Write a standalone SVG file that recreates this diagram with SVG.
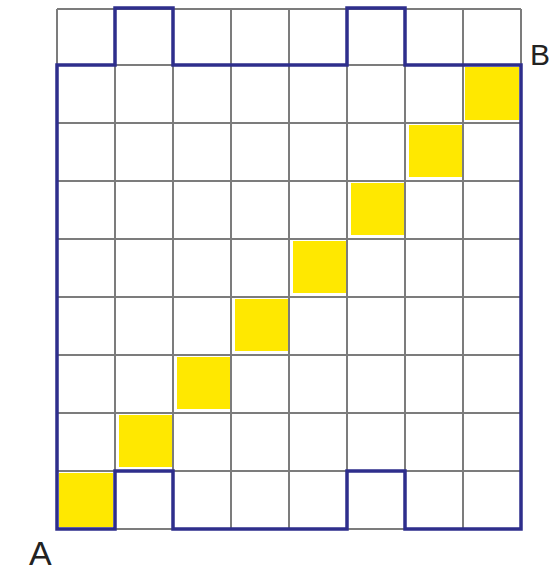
<svg xmlns="http://www.w3.org/2000/svg" width="552" height="576" viewBox="0 0 552 576">
<style>
.g{stroke:#7c7c7c;stroke-width:2;fill:none}
.b{stroke:#2e2e8c;stroke-width:3.5;fill:none;stroke-linejoin:miter}
.y{fill:#ffe800}
.t{font-family:"Liberation Sans",Arial,sans-serif;fill:#222}
</style>
<rect x="0" y="0" width="552" height="576" fill="#fff"/>
<g id="yellow">
<rect class="y" x="59" y="473" width="54" height="54"/>
<rect class="y" x="119" y="415" width="53" height="52"/>
<rect class="y" x="177" y="357" width="53" height="52"/>
<rect class="y" x="235" y="299" width="53" height="52"/>
<rect class="y" x="293" y="241" width="53" height="52"/>
<rect class="y" x="351" y="183" width="53" height="52"/>
<rect class="y" x="409" y="125" width="53" height="52"/>
<rect class="y" x="465" y="67" width="54" height="53"/>
</g>
<g id="grid" class="g">
<path d="M57 9H521M57 65H521M57 123H521M57 181H521M57 239H521M57 297H521M57 355H521M57 413H521M57 471H521M57 529H521"/>
<path d="M57 9V529M115 9V529M173 9V529M231 9V529M289 9V529M347 9V529M405 9V529M463 9V529M521 9V529"/>
</g>
<g id="outline">
<path class="b" d="M57 65H115V8H173V65H347V8H405V65H521V529H405V471H347V529H173V471H115V529H57Z"/>
</g>
<g id="labels">
<text class="t" x="29" y="565" font-size="34">A</text>
<text class="t" x="530" y="65" font-size="30">B</text>
</g>
</svg>
